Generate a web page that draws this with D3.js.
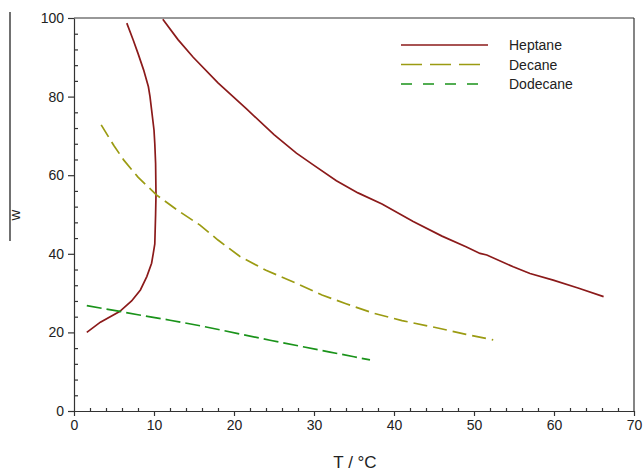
<!DOCTYPE html>
<html>
<head>
<meta charset="utf-8">
<script src="https://cdn.jsdelivr.net/npm/d3@7/dist/d3.min.js"></script>
<style>
  body { margin: 0; background: #fff; }
  svg { display: block; font-family: "Liberation Sans", Arial, sans-serif; }
</style>
</head>
<body>
<svg id="chart" width="644" height="472"></svg>
<script>
// ---- data (T in °C, w) ----
const heptaneLow = [[1.6,20],[3.3,22.6],[5.7,25.3],[7.2,28],[8.3,30.8],[9.1,34.2],[9.7,37.6],[9.9,40],[10.1,42.5],[10.2,50],[10.25,55],[10.2,63],[10.1,68],[10.0,71.5],[9.7,76.6],[9.5,80],[9.3,82.5],[8.7,86.8],[8.0,91],[7.4,94.4],[6.6,98.7]];
const heptaneHigh = [[11.1,99.7],[13,94.5],[14.9,90],[18,83.5],[21.6,76.8],[25,70.3],[27.8,65.6],[30,62.5],[32.8,58.6],[35.5,55.5],[38.5,52.7],[42.4,48.2],[46,44.5],[49,41.8],[50.75,40.1],[51.6,39.7],[54.9,36.7],[57,35],[59.9,33.3],[63,31.3],[66.2,29.1]];
const decane = [[3.4,72.8],[5,67.5],[6.2,63.9],[8,59.5],[10.3,55],[13,51],[15.75,47.3],[18,43.5],[20.75,39.3],[24,35.8],[27.8,32.5],[31,29.5],[34,27.3],[37.4,24.9],[41,23],[45.75,21],[49,19.5],[52.4,18.1]];
const dodecane = [[1.6,26.8],[5,25.6],[8,24.5],[12,23.1],[16,21.6],[20.75,19.6],[24.5,18.0],[28,16.6],[32,15.0],[35,13.8],[37,13.0]];
const seriesNames = ["Heptane","Decane","Dodecane"];
const xTicks = [0,10,20,30,40,50,60,70];
const yTicks = [0,20,40,60,80,100];
const xMinor = d3.range(0,71,2);
const yMinor = d3.range(0,101,4);

const colors = { Heptane: "#8b1a1a", Decane: "#9b9b12", Dodecane: "#1a931a" };
const dashes = { Heptane: null, Decane: "14,6", Dodecane: "15,5" };
const legendDashes = { Heptane: null, Decane: "21,8", Dodecane: "11,11" };

const svg = d3.select("#chart");
const x = d3.scaleLinear().domain([0,70]).range([74,634]);
const y = d3.scaleLinear().domain([0,100]).range([411,18]);

svg.append("defs").append("clipPath").attr("id","clip")
  .append("rect").attr("x",x(0)).attr("y",y(100)).attr("width",x(70)-x(0)).attr("height",y(0)-y(100));

const line = d3.line().x(d=>x(d[0])).y(d=>y(d[1]));
const g = svg.append("g").attr("clip-path","url(#clip)");
[[heptaneLow,"Heptane"],[heptaneHigh,"Heptane"],[decane,"Decane"],[dodecane,"Dodecane"]].forEach(([data,name])=>{
  g.append("path").datum(data).attr("d",line).attr("fill","none")
    .attr("stroke",colors[name]).attr("stroke-width",1.7)
    .attr("stroke-dasharray",dashes[name]);
});

// frame (top & right)
svg.append("line").attr("x1",x(0)).attr("x2",x(70)).attr("y1",y(100)).attr("y2",y(100)).attr("stroke","#333").attr("stroke-width",1.2);
svg.append("line").attr("x1",x(70)).attr("x2",x(70)).attr("y1",y(100)).attr("y2",y(0)).attr("stroke","#333").attr("stroke-width",1.2);

// x axis
const xAxis = svg.append("g").attr("transform",`translate(0,${y(0)})`)
  .call(d3.axisBottom(x).tickValues(xTicks).tickSize(5).tickSizeOuter(0).tickPadding(4));
xAxis.selectAll("text").attr("font-size",14).attr("fill","#222").attr("font-family","Liberation Sans, Arial, sans-serif");
const xMin = svg.append("g").attr("transform",`translate(0,${y(0)})`)
  .call(d3.axisTop(x).tickValues(xMinor.filter(v=>v%10!==0)).tickSize(3).tickFormat(""));
xMin.select(".domain").remove();

// y axis
const yAxis = svg.append("g").attr("transform",`translate(${x(0)},0)`)
  .call(d3.axisLeft(y).tickValues(yTicks).tickSize(6).tickSizeOuter(0).tickPadding(4));
yAxis.selectAll("text").attr("font-size",14).attr("fill","#222").attr("font-family","Liberation Sans, Arial, sans-serif");
const yMin = svg.append("g").attr("transform",`translate(${x(0)},0)`)
  .call(d3.axisRight(y).tickValues(yMinor.filter(v=>v%20!==0)).tickSize(4).tickFormat(""));
yMin.select(".domain").remove();
svg.selectAll(".domain, .tick line").attr("stroke","#333").attr("stroke-width",1.2);

// axis titles
svg.append("text").attr("x",355).attr("y",468).attr("text-anchor","middle")
  .attr("font-size",17).attr("fill","#222").text("T / °C");
svg.append("text").attr("transform","translate(20,215) rotate(-90)").attr("text-anchor","middle")
  .attr("font-size",15).attr("fill","#222").text("w");
svg.append("line").attr("x1",10).attr("x2",10).attr("y1",12).attr("y2",241).attr("stroke","#111").attr("stroke-width",1.2);

// legend
const leg = svg.append("g");
seriesNames.forEach((name,i)=>{
  const yy = 45 + i*19.5;
  leg.append("line").attr("x1",401).attr("x2",name==="Heptane"?488:(name==="Decane"?480:481)).attr("y1",yy).attr("y2",yy)
    .attr("stroke",colors[name]).attr("stroke-width",1.7).attr("stroke-dasharray",legendDashes[name]);
  leg.append("text").attr("x",509).attr("y",yy+5).attr("font-size",14).attr("fill","#222").text(name);
});
</script>
</body>
</html>
